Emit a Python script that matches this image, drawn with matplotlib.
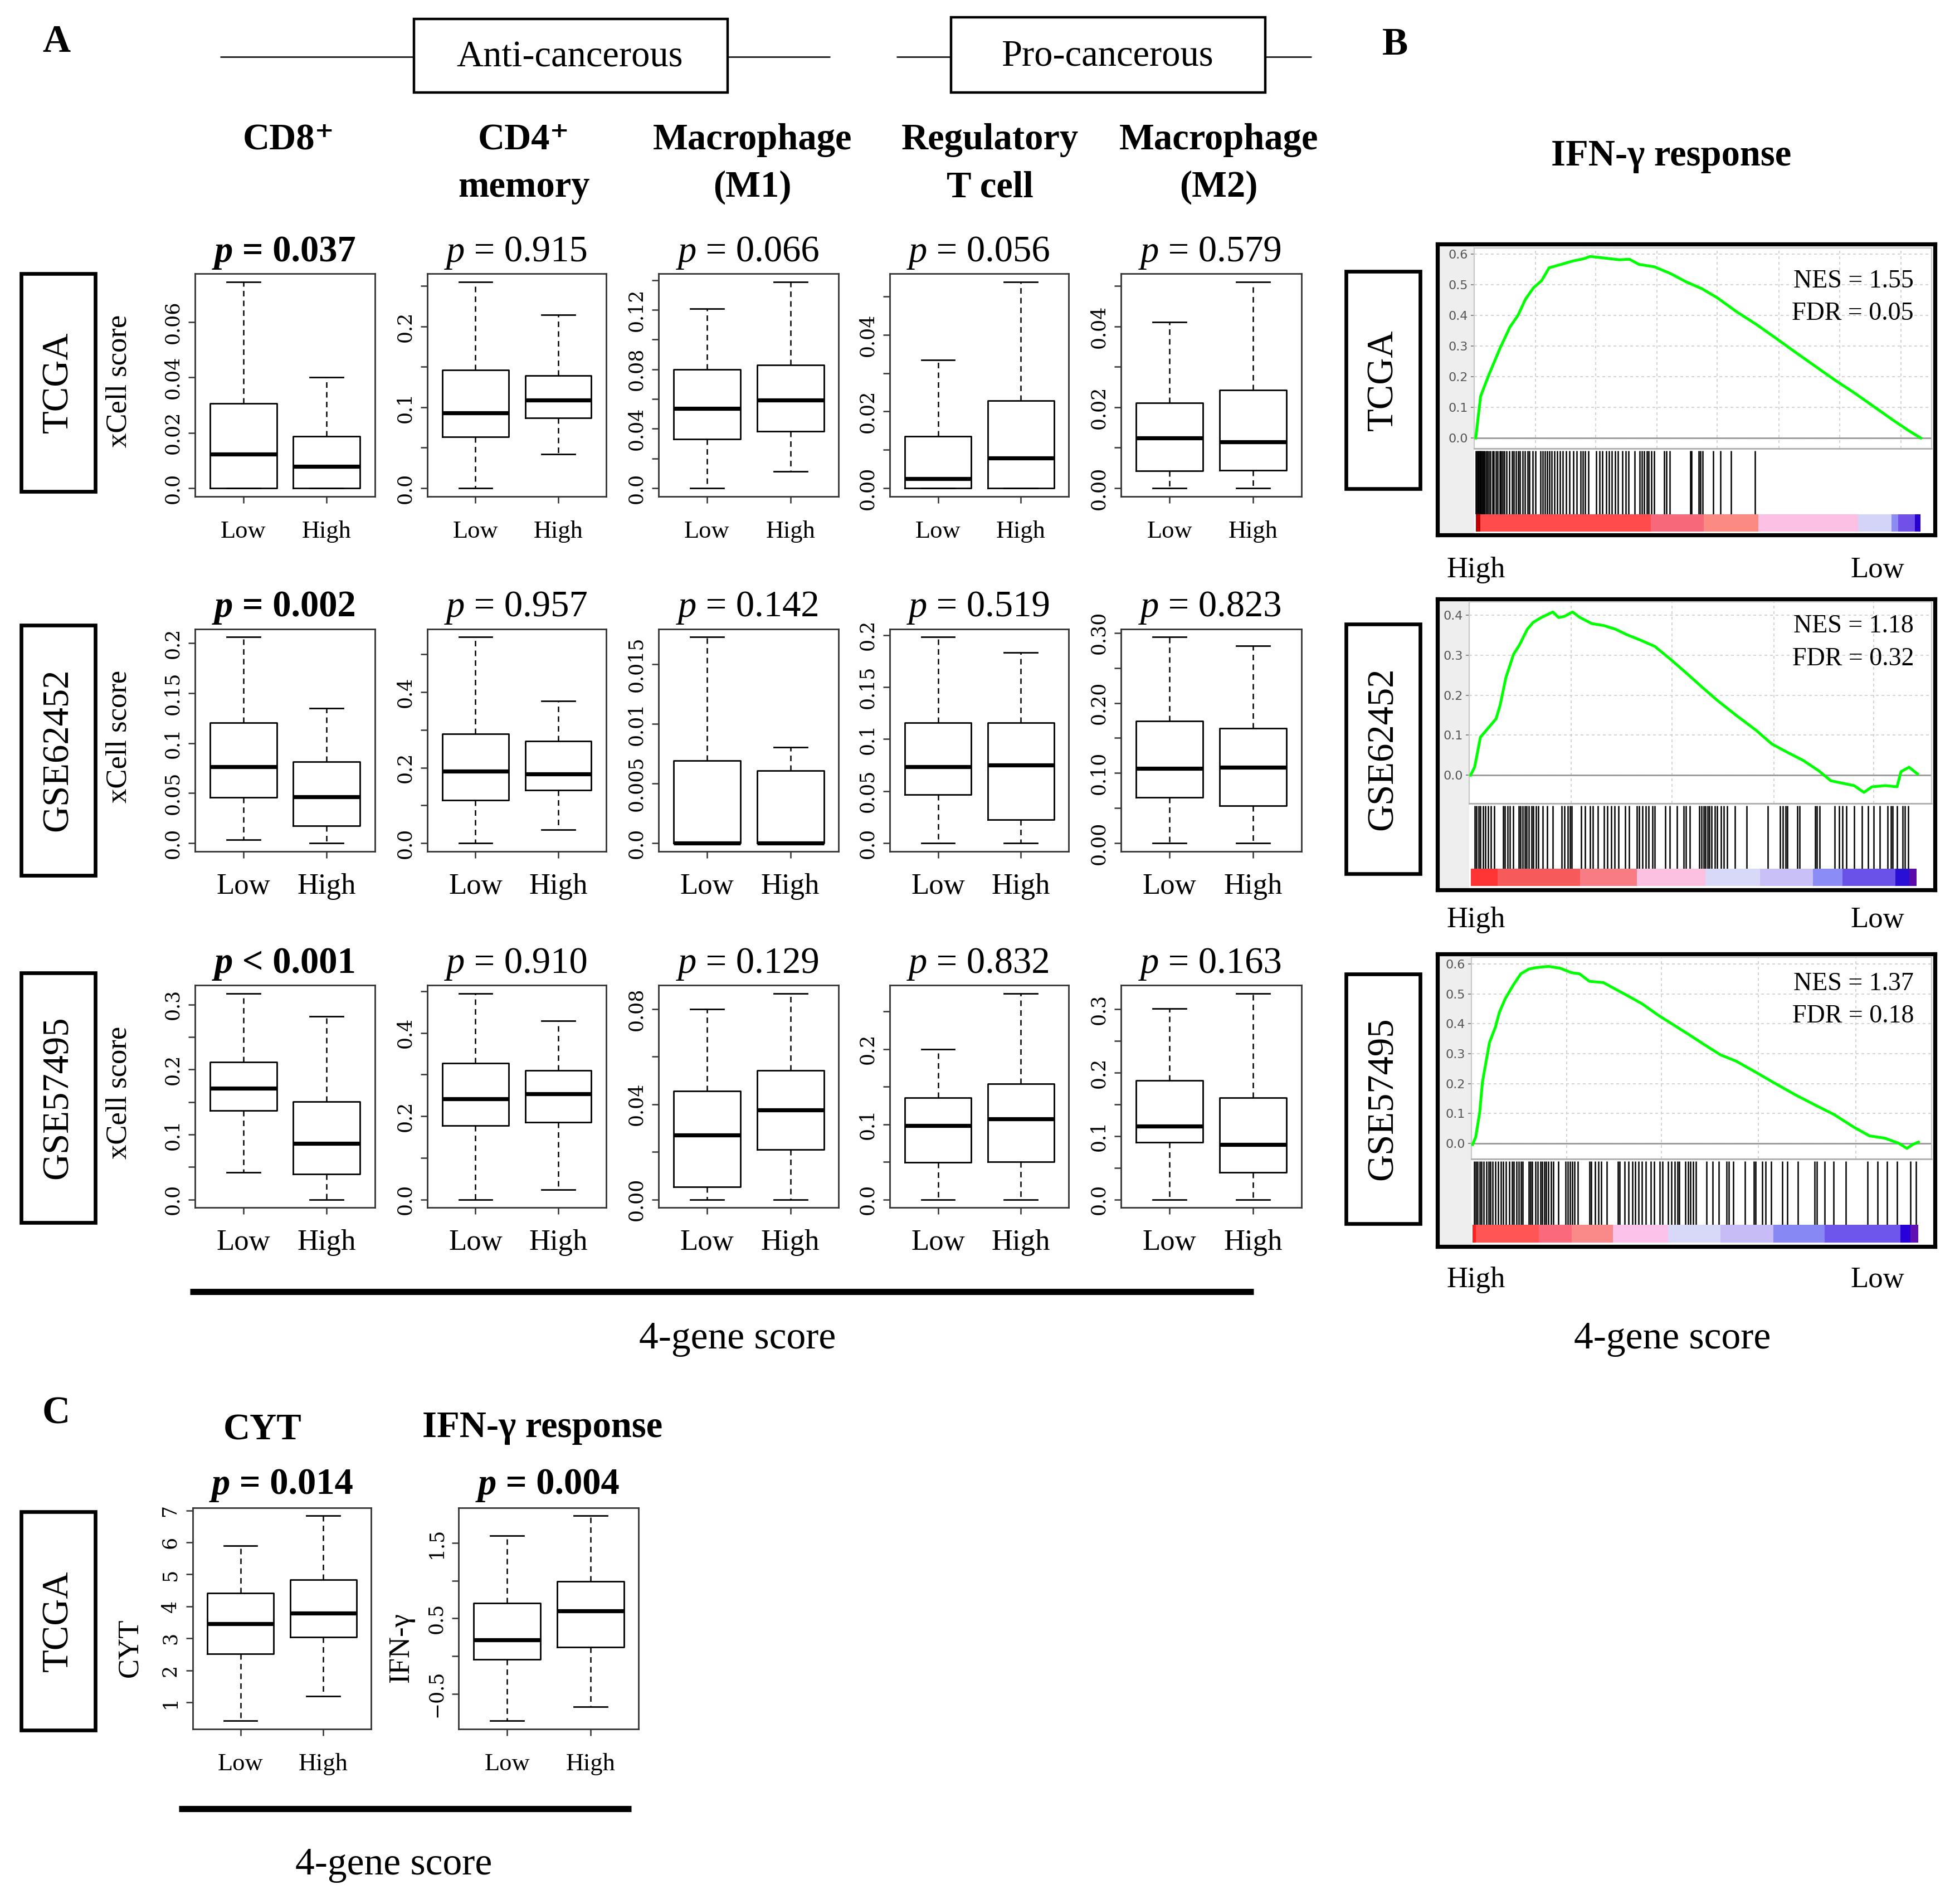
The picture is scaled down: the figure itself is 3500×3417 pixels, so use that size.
import matplotlib
matplotlib.use("Agg")
import matplotlib.pyplot as plt
from matplotlib.patches import Rectangle
from matplotlib.lines import Line2D
from matplotlib.offsetbox import TextArea, HPacker, AnnotationBbox

plt.rcParams['font.family'] = ['Liberation Serif', 'DejaVu Serif']

# ---------------- data ----------------
cell_line1 = ['CD8\u207a', 'CD4\u207a', 'Macrophage', 'Regulatory', 'Macrophage']
cell_line2 = ['', 'memory', '(M1)', 'T cell', '(M2)']
cohorts = ['TCGA', 'GSE62452', 'GSE57495']

# box stats per cell type: [lower whisker, Q1, median, Q3, upper whisker]
tcga_low = [[0.0, 0.0, 0.0123, 0.0307, 0.0745],
            [0.0, 0.0635, 0.0928, 0.146, 0.255],
            [0.0, 0.0329, 0.0536, 0.080, 0.1206],
            [0.0, 0.0, 0.0024, 0.0135, 0.0335],
            [0.0, 0.0042, 0.0124, 0.0211, 0.0411]]
tcga_high = [[0.0, 0.0, 0.0079, 0.0187, 0.040],
             [0.042, 0.0867, 0.1088, 0.1395, 0.2147],
             [0.0113, 0.0384, 0.0591, 0.083, 0.1387],
             [0.0, 0.0, 0.0079, 0.0228, 0.0538],
             [0.0, 0.0044, 0.0115, 0.0242, 0.051]]
g62_low = [[0.0032, 0.0455, 0.0761, 0.1203, 0.206],
           [0.0, 0.114, 0.190, 0.289, 0.546],
           [0.0, 0.0, 0.0, 0.00694, 0.0173],
           [0.0, 0.0467, 0.0732, 0.1158, 0.198],
           [0.0, 0.0655, 0.107, 0.174, 0.294]]
g62_high = [[0.0, 0.0175, 0.0463, 0.0815, 0.1349],
            [0.036, 0.141, 0.183, 0.270, 0.376],
            [0.0, 0.0, 0.0, 0.00607, 0.00803],
            [0.0, 0.0224, 0.0749, 0.1158, 0.183],
            [0.0, 0.0532, 0.1086, 0.164, 0.2817]]
g57_low = [[0.0415, 0.137, 0.171, 0.2115, 0.317],
           [0.0, 0.178, 0.242, 0.327, 0.495],
           [0.0, 0.0052, 0.027, 0.0456, 0.080],
           [0.0, 0.0495, 0.0984, 0.1355, 0.200],
           [0.0, 0.0898, 0.116, 0.1875, 0.301]]
g57_high = [[0.0, 0.0387, 0.0859, 0.1507, 0.282],
            [0.023, 0.186, 0.254, 0.310, 0.429],
            [0.0, 0.021, 0.0377, 0.0543, 0.0866],
            [0.0, 0.0504, 0.107, 0.1535, 0.274],
            [0.0, 0.0425, 0.0866, 0.160, 0.325]]

p_tcga = [' = 0.037', ' = 0.915', ' = 0.066', ' = 0.056', ' = 0.579']
p_g62 = [' = 0.002', ' = 0.957', ' = 0.142', ' = 0.519', ' = 0.823']
p_g57 = [' < 0.001', ' = 0.910', ' = 0.129', ' = 0.832', ' = 0.163']
p_sig = [True, False, False, False, False]

yt_tcga = [[0, 0.02, 0.04, 0.06],
           [0, 0.05, 0.1, 0.15, 0.2, 0.25],
           [0, 0.02, 0.04, 0.06, 0.08, 0.10, 0.12, 0.14],
           [0, 0.01, 0.02, 0.03, 0.04, 0.05],
           [0, 0.01, 0.02, 0.03, 0.04, 0.05]]
yl_tcga = [['0.0', '0.02', '0.04', '0.06'],
           ['0.0', '', '0.1', '', '0.2', ''],
           ['0.0', '', '0.04', '', '0.08', '', '0.12', ''],
           ['0.00', '', '0.02', '', '0.04', ''],
           ['0.00', '', '0.02', '', '0.04', '']]
yt_g62 = [[0, 0.05, 0.1, 0.15, 0.2],
          [0, 0.1, 0.2, 0.3, 0.4, 0.5],
          [0, 0.005, 0.01, 0.015],
          [0, 0.05, 0.1, 0.15, 0.2],
          [0, 0.05, 0.1, 0.15, 0.2, 0.25, 0.3]]
yl_g62 = [['0.0', '0.05', '0.1', '0.15', '0.2'],
          ['0.0', '', '0.2', '', '0.4', ''],
          ['0.0', '0.005', '0.01', '0.015'],
          ['0.0', '0.05', '0.1', '0.15', '0.2'],
          ['0.00', '', '0.10', '', '0.20', '', '0.30']]
yt_g57 = [[0, 0.05, 0.1, 0.15, 0.2, 0.25, 0.3],
          [0, 0.1, 0.2, 0.3, 0.4, 0.5],
          [0, 0.02, 0.04, 0.06, 0.08],
          [0, 0.05, 0.1, 0.15, 0.2, 0.25],
          [0, 0.05, 0.1, 0.15, 0.2, 0.25, 0.3]]
yl_g57 = [['0.0', '', '0.1', '', '0.2', '', '0.3'],
          ['0.0', '', '0.2', '', '0.4', ''],
          ['0.00', '', '0.04', '', '0.08'],
          ['0.0', '', '0.1', '', '0.2', ''],
          ['0.0', '', '0.1', '', '0.2', '', '0.3']]

# panel C
cyt_low = [0.42, 2.51, 3.46, 4.41, 5.90]
cyt_high = [1.19, 3.03, 3.79, 4.83, 6.83]
ifng_low = [-0.86, -0.043, 0.214, 0.70, 1.595]
ifng_high = [-0.677, 0.117, 0.595, 0.99, 1.86]
yt_cyt = [1, 2, 3, 4, 5, 6, 7]
yl_cyt = ['1', '2', '3', '4', '5', '6', '7']
yt_ifng = [-0.5, 0.0, 0.5, 1.0, 1.5]
yl_ifng = ['\u22120.5', '', '0.5', '', '1.5']

# GSEA running enrichment score (rank fraction, ES)
tcga_es_x = [0, 0.011, 0.029, 0.055, 0.077, 0.095, 0.112, 0.130, 0.148, 0.165, 0.192, 0.218,
             0.244, 0.257, 0.288, 0.323, 0.345, 0.367, 0.402, 0.438, 0.473, 0.508, 0.543,
             0.587, 0.631, 0.675, 0.719, 0.763, 0.807, 0.851, 0.895, 0.939, 0.974, 1.0]
tcga_es_y = [0.0, 0.136, 0.204, 0.294, 0.362, 0.400, 0.453, 0.490, 0.513, 0.555, 0.566, 0.577,
             0.585, 0.592, 0.587, 0.581, 0.583, 0.566, 0.558, 0.536, 0.509, 0.487, 0.457,
             0.411, 0.370, 0.325, 0.279, 0.234, 0.189, 0.147, 0.102, 0.057, 0.023, 0.0]
tcga_hits = [0.0, 0.003, 0.005, 0.007, 0.009, 0.011, 0.013, 0.016, 0.018, 0.021, 0.024, 0.026,
             0.029, 0.033, 0.038, 0.041, 0.045, 0.049, 0.054, 0.057, 0.060, 0.064, 0.069,
             0.075, 0.082, 0.086, 0.091, 0.095, 0.099, 0.105, 0.111, 0.117, 0.121, 0.128,
             0.134, 0.146, 0.150, 0.155, 0.161, 0.165, 0.171, 0.177, 0.183, 0.190, 0.196,
             0.203, 0.211, 0.220, 0.227, 0.236, 0.241, 0.246, 0.253, 0.271, 0.278, 0.285,
             0.293, 0.299, 0.306, 0.313, 0.319, 0.330, 0.337, 0.343, 0.357, 0.369, 0.373,
             0.378, 0.385, 0.389, 0.395, 0.401, 0.424, 0.429, 0.436, 0.482, 0.485, 0.501,
             0.505, 0.510, 0.534, 0.550, 0.574, 0.627]
tcga_bar_edges = [0, 0.011, 0.394, 0.512, 0.635, 0.859, 0.934, 0.949, 0.987, 1.0]
tcga_bar_cols = ['#c00000', '#ff4b4b', '#f6687a', '#fb8a82', '#fcc0e4', '#d4d4f8',
                 '#8c8cf4', '#7050e8', '#2800d0']
tcga_nes, tcga_fdr = 'NES = 1.55', 'FDR = 0.05'

g62_es_x = [0, 0.009, 0.022, 0.035, 0.057, 0.066, 0.079, 0.096, 0.109, 0.127, 0.140, 0.158,
            0.184, 0.197, 0.210, 0.228, 0.245, 0.271, 0.298, 0.324, 0.350, 0.377, 0.412,
            0.447, 0.482, 0.517, 0.552, 0.595, 0.639, 0.674, 0.709, 0.744, 0.779, 0.806,
            0.832, 0.858, 0.880, 0.898, 0.928, 0.954, 0.963, 0.981, 1.0]
g62_es_y = [0.0, 0.020, 0.095, 0.112, 0.141, 0.175, 0.244, 0.302, 0.325, 0.365, 0.382, 0.394,
            0.408, 0.394, 0.397, 0.408, 0.394, 0.379, 0.374, 0.365, 0.351, 0.339, 0.322,
            0.290, 0.256, 0.221, 0.187, 0.149, 0.112, 0.078, 0.057, 0.037, 0.011, -0.014,
            -0.020, -0.026, -0.043, -0.029, -0.026, -0.029, 0.009, 0.020, 0.003]
g62_hits = [0.009, 0.013, 0.018, 0.022, 0.028, 0.033, 0.039, 0.046, 0.053, 0.073, 0.077,
            0.083, 0.088, 0.095, 0.108, 0.112, 0.116, 0.121, 0.125, 0.130, 0.136, 0.140,
            0.146, 0.151, 0.162, 0.171, 0.184, 0.204, 0.210, 0.217, 0.223, 0.226, 0.248,
            0.256, 0.267, 0.273, 0.285, 0.299, 0.306, 0.315, 0.322, 0.331, 0.346, 0.355,
            0.372, 0.377, 0.385, 0.392, 0.398, 0.407, 0.412, 0.436, 0.445, 0.462, 0.477,
            0.482, 0.490, 0.512, 0.517, 0.521, 0.525, 0.530, 0.534, 0.539, 0.547, 0.552,
            0.560, 0.567, 0.574, 0.591, 0.617, 0.665, 0.692, 0.699, 0.705, 0.709, 0.731,
            0.736, 0.771, 0.775, 0.781, 0.814, 0.825, 0.832, 0.841, 0.858, 0.876, 0.889,
            0.902, 0.915, 0.933, 0.941, 0.944, 0.954, 0.967, 0.972, 0.979]
g62_bar_edges = [0, 0.061, 0.245, 0.372, 0.525, 0.648, 0.766, 0.832, 0.950, 0.981, 0.998]
g62_bar_cols = ['#ff3535', '#f65a5a', '#f87c84', '#fcc0e0', '#d8d8f8', '#c8c0f6',
                '#8c8cf6', '#6a52e8', '#2a10d4', '#5a0aa8']
g62_nes, g62_fdr = 'NES = 1.18', 'FDR = 0.32'

g57_es_x = [0, 0.007, 0.016, 0.022, 0.029, 0.038, 0.051, 0.060, 0.073, 0.091, 0.108, 0.126,
            0.143, 0.170, 0.196, 0.222, 0.240, 0.262, 0.293, 0.319, 0.345, 0.380, 0.416,
            0.451, 0.486, 0.521, 0.556, 0.591, 0.635, 0.679, 0.723, 0.767, 0.811, 0.855,
            0.890, 0.925, 0.956, 0.974, 0.987, 1.0]
g57_es_y = [-0.004, 0.021, 0.104, 0.204, 0.263, 0.338, 0.388, 0.438, 0.483, 0.529, 0.567,
            0.583, 0.588, 0.592, 0.586, 0.571, 0.567, 0.542, 0.538, 0.517, 0.496, 0.467,
            0.429, 0.396, 0.363, 0.329, 0.296, 0.275, 0.238, 0.200, 0.163, 0.129, 0.096,
            0.054, 0.025, 0.017, 0.0, -0.017, -0.004, 0.004]
g57_hits = [0.003, 0.007, 0.011, 0.016, 0.020, 0.025, 0.031, 0.036, 0.040, 0.045, 0.051,
            0.057, 0.064, 0.069, 0.075, 0.082, 0.089, 0.092, 0.099, 0.104, 0.108, 0.112,
            0.126, 0.130, 0.134, 0.141, 0.146, 0.152, 0.156, 0.161, 0.165, 0.170, 0.176,
            0.181, 0.192, 0.209, 0.214, 0.218, 0.224, 0.229, 0.236, 0.262, 0.266, 0.275,
            0.282, 0.288, 0.301, 0.326, 0.330, 0.341, 0.350, 0.359, 0.365, 0.372, 0.380,
            0.389, 0.400, 0.407, 0.420, 0.426, 0.438, 0.446, 0.453, 0.460, 0.464, 0.477,
            0.483, 0.489, 0.495, 0.501, 0.525, 0.539, 0.552, 0.569, 0.574, 0.584, 0.611,
            0.631, 0.635, 0.649, 0.657, 0.670, 0.695, 0.706, 0.730, 0.767, 0.772, 0.789,
            0.809, 0.837, 0.886, 0.908, 0.930, 0.952, 0.982, 0.994]
g57_bar_edges = [0, 0.007, 0.148, 0.222, 0.315, 0.438, 0.556, 0.675, 0.789, 0.960, 0.982, 1.0]
g57_bar_cols = ['#ff2020', '#ff5555', '#fb6a7c', '#fa8a8a', '#fcc2ea', '#d8d8f8', '#c8bcf6',
                '#8888f4', '#6e56ec', '#2a00d8', '#6010b0']
g57_nes, g57_fdr = 'NES = 1.37', 'FDR = 0.18'

# ---------------- layout helpers (reference pixel grid 1560 x 1523) ----------------
W, H = 1560.0, 1523.0
fig = plt.figure(figsize=(17.5, 17.085), dpi=200)


def rect(x0, y0, x1, y1):
    return [x0 / W, 1 - y1 / H, (x1 - x0) / W, (y1 - y0) / H]


def fx(x):
    return x / W


def fy(y):
    return 1 - y / H


def ftext(x, y, s, **kw):
    kw.setdefault('ha', 'center')
    kw.setdefault('va', 'center')
    fig.text(fx(x), fy(y), s, **kw)


def fbox(x0, y0, x1, y1, lw):
    fig.add_artist(Rectangle((fx(x0), fy(y1)), (x1 - x0) / W, (y1 - y0) / H,
                             transform=fig.transFigure, fill=False, lw=lw, ec='black'))


def fline(x0, x1, y, lw):
    fig.add_artist(Line2D([fx(x0), fx(x1)], [fy(y), fy(y)], transform=fig.transFigure,
                          color='black', lw=lw, solid_capstyle='butt'))


def p_label(x, y, rest, bold):
    w = 'bold' if bold else 'normal'
    t1 = TextArea('p', textprops=dict(fontsize=24, style='italic', weight=w))
    t2 = TextArea(rest, textprops=dict(fontsize=24, weight=w))
    pack = HPacker(children=[t1, t2], align='baseline', pad=0, sep=0)
    ab = AnnotationBbox(pack, (fx(x), fy(y)), xycoords='figure fraction', frameon=False,
                        box_alignment=(0.5, 0.5), pad=0)
    fig.add_artist(ab)


def box_panel(x0, x1, y0, y1, low, high, ticks, labels, xfs):
    ax = fig.add_axes(rect(x0, y0, x1, y1))
    keys = ['whislo', 'q1', 'med', 'q3', 'whishi']
    stats = [dict(zip(keys, s), fliers=[]) for s in (low, high)]
    ax.bxp(stats, positions=[1, 2], widths=0.8, capwidths=0.4, showfliers=False,
           manage_ticks=False,
           boxprops=dict(color='black', lw=1.0),
           medianprops=dict(color='black', lw=2.6, solid_capstyle='butt'),
           whiskerprops=dict(color='black', lw=0.9, linestyle=(0, (4, 3))),
           capprops=dict(color='black', lw=1.0))
    lo = min(low[0], high[0])
    hi = max(low[4], high[4])
    r = hi - lo
    ax.set_ylim(lo - 0.04 * r, hi + 0.04 * r)
    ax.set_xlim(0.42, 2.58)
    ax.set_xticks([1, 2])
    ax.set_xticklabels([])
    ax.set_yticks(ticks)
    ax.set_yticklabels(labels, rotation=90, va='center', fontsize=12.5,
                       family='DejaVu Serif')
    ax.tick_params(length=4.3, width=0.9, pad=4, color='#333333')
    for sp in ax.spines.values():
        sp.set_linewidth(1.0)
        sp.set_color('#333333')
    off = 28.0 / (y1 - y0)
    for i, name in enumerate(['Low', 'High']):
        ax.text(i + 1, -off, name, transform=ax.get_xaxis_transform(), ha='center',
                va='center', fontsize=xfs)
    return ax


# ---------------- panel A ----------------
ftext(45, 34, 'A', fontsize=25, weight='bold')
fbox(331, 15, 582, 74, 1.6)
ftext(456, 46, 'Anti-cancerous', fontsize=24)
fline(176, 331, 45.5, 0.9)
fline(582, 664, 45.5, 0.9)
fbox(761, 14, 1012, 74, 1.6)
ftext(886, 45, 'Pro-cancerous', fontsize=24)
fline(717, 761, 45.5, 0.9)
fline(1012, 1049, 45.5, 0.9)

col_x = [(156, 300), (342, 485), (527, 671), (712, 855), (897, 1041)]
head_x = [231, 419, 602, 792, 975]
for i in range(5):
    ftext(head_x[i], 112, cell_line1[i], fontsize=24, weight='bold')
    if cell_line2[i]:
        ftext(head_x[i], 150, cell_line2[i], fontsize=24, weight='bold')

row_y = [(219, 397), (503, 681), (788, 966)]
row_box = [(219, 393), (500, 700), (778, 978)]
row_low = [tcga_low, g62_low, g57_low]
row_high = [tcga_high, g62_high, g57_high]
row_p = [p_tcga, p_g62, p_g57]
row_yt = [yt_tcga, yt_g62, yt_g57]
row_yl = [yl_tcga, yl_g62, yl_g57]
row_xfs = [16, 19, 19]

for r in range(3):
    y0, y1 = row_y[r]
    fbox(17, row_box[r][0], 76, row_box[r][1], 2.4)
    ftext(46.5, (row_box[r][0] + row_box[r][1]) / 2, cohorts[r], fontsize=24, rotation=90)
    ftext(95, (y0 + y1) / 2 - 3, 'xCell score', fontsize=19, rotation=90)
    for c in range(5):
        x0, x1 = col_x[c]
        box_panel(x0, x1, y0, y1, row_low[r][c], row_high[r][c], row_yt[r][c],
                  row_yl[r][c], row_xfs[r])
        p_label((x0 + x1) / 2, y0 - 17, row_p[r][c], p_sig[c])

fline(152, 1003, 1033, 4.0)
ftext(590, 1071, '4-gene score', fontsize=25)

# ---------------- panel B ----------------
ftext(1116, 36, 'B', fontsize=25, weight='bold')
ftext(1337, 125, 'IFN-\u03b3 response', fontsize=24, weight='bold')


def gsea_panel(fy0, fy1, strip_x, es_top, sep_y, bar_top, bar_bot, ylim, xmax, ticks,
               grid_x, es_x, es_y, hits, edges, cols, nes, fdr, nes_y, hl_y):
    fx0, fx1, right = 1150, 1548, 1545.5
    frame = fig.add_axes(rect(fx0, fy0, fx1, fy1))
    frame.set_xlim(0, 1)
    frame.set_ylim(0, 1)
    frame.set_xticks([])
    frame.set_yticks([])
    frame.axvspan(0, (strip_x - fx0) / (fx1 - fx0), color='#eeeeee', lw=0)
    for sp in frame.spines.values():
        sp.set_linewidth(2.6)
        sp.set_color('black')

    es = fig.add_axes(rect(strip_x, es_top, right, sep_y))
    for t in ticks:
        es.axhline(t, color='#cccccc', lw=0.6, ls=(0, (3, 3)), zorder=1)
    for g in grid_x:
        es.axvline(g, color='#cccccc', lw=0.6, ls=(0, (3, 3)), zorder=1)
    es.axhline(0, color='#999999', lw=1.0, zorder=2)
    es.plot(es_x, es_y, color='#00ff00', lw=1.8, zorder=3)
    es.set_xlim(-0.003, xmax)
    es.set_ylim(*ylim)
    es.set_xticks([])
    es.set_yticks(ticks)
    es.set_yticklabels(['%.1f' % t for t in ticks], fontsize=8, color='#555555',
                       family='DejaVu Sans')
    es.tick_params(axis='y', length=2, width=0.6, pad=2, color='#777777')
    for sp in es.spines.values():
        sp.set_linewidth(0.8)
        sp.set_color('#c8c8c8')

    hx = fig.add_axes(rect(strip_x, sep_y, right, bar_top))
    hx.vlines(hits, 0, 0.965, color='black', lw=0.9)
    hx.set_xlim(-0.003, xmax)
    hx.set_ylim(0, 1)
    hx.set_xticks([])
    hx.set_yticks([])
    for k in ['left', 'right', 'bottom']:
        hx.spines[k].set_visible(False)
    hx.spines['top'].set_color('#aaaaaa')
    hx.spines['top'].set_linewidth(0.9)

    bx = fig.add_axes(rect(strip_x, bar_top, right, bar_bot))
    bx.broken_barh([(edges[i], edges[i + 1] - edges[i]) for i in range(len(cols))], (0, 1),
                   facecolors=cols, lw=0)
    bx.set_xlim(-0.003, xmax)
    bx.set_ylim(0, 1)
    bx.axis('off')

    ftext(1531, nes_y, nes, fontsize=16.5, ha='right')
    ftext(1531, nes_y + 26, fdr, fontsize=16.5, ha='right')
    ftext(1181, hl_y, 'High', fontsize=19)
    ftext(1502, hl_y, 'Low', fontsize=19)


gsea_panel(195, 428, 1179.5, 198.5, 358.7, 411.4, 425.2, (-0.034, 0.619), 1.025,
           [0.0, 0.1, 0.2, 0.3, 0.4, 0.5, 0.6],
           [0.134, 0.269, 0.407, 0.543, 0.681, 0.818, 0.956],
           tcga_es_x, tcga_es_y, tcga_hits, tcga_bar_edges, tcga_bar_cols,
           tcga_nes, tcga_fdr, 225, 456)
gsea_panel(479, 712, 1175.4, 481.5, 642.7, 695.0, 708.6, (-0.0707, 0.433), 1.032,
           [0.0, 0.1, 0.2, 0.3, 0.4],
           [0.225, 0.451, 0.679, 0.902],
           g62_es_x, g62_es_y, g62_hits, g62_bar_edges, g62_bar_cols,
           g62_nes, g62_fdr, 501, 736)
gsea_panel(763, 997, 1177.0, 765.6, 927.2, 979.8, 993.8, (-0.053, 0.623), 1.030,
           [0.0, 0.1, 0.2, 0.3, 0.4, 0.5, 0.6],
           [0.211, 0.424, 0.641, 0.859],
           g57_es_x, g57_es_y, g57_hits, g57_bar_edges, g57_bar_cols,
           g57_nes, g57_fdr, 787, 1024)

for (b0, b1), name in zip([(217, 391), (499, 699), (779, 979)], cohorts):
    fbox(1077, b0, 1136, b1, 2.4)
    ftext(1106.5, (b0 + b1) / 2, name, fontsize=24, rotation=90)

ftext(1338, 1071, '4-gene score', fontsize=25)

# ---------------- panel C ----------------
ftext(45, 1131, 'C', fontsize=25, weight='bold')
ftext(210, 1144, 'CYT', fontsize=24, weight='bold')
ftext(434, 1142, 'IFN-\u03b3 response', fontsize=24, weight='bold')
fbox(17, 1209, 76, 1384, 2.4)
ftext(46.5, 1296.5, 'TCGA', fontsize=24, rotation=90)

box_panel(154, 297, 1206, 1383, cyt_low, cyt_high, yt_cyt, yl_cyt, 16)
p_label(226, 1188, ' = 0.014', True)
ftext(104, 1318, 'CYT', fontsize=19, rotation=90)

box_panel(367, 511, 1206, 1383, ifng_low, ifng_high, yt_ifng, yl_ifng, 16)
p_label(439, 1188, ' = 0.004', True)
ftext(321, 1318, 'IFN-\u03b3', fontsize=19, rotation=90)

fline(143, 505, 1447, 4.0)
ftext(315, 1492, '4-gene score', fontsize=25)

fig.savefig('out.png', dpi=200)
